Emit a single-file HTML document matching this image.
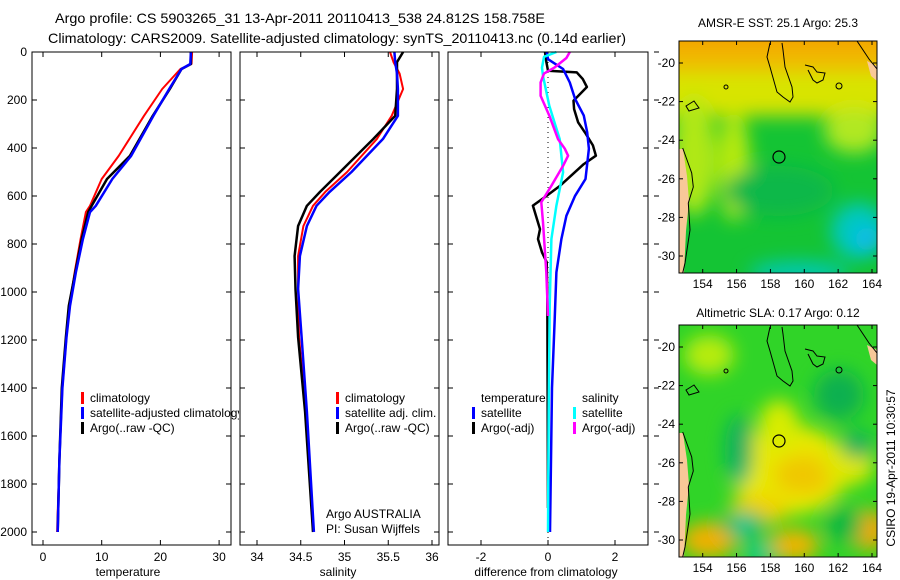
<!DOCTYPE html>
<html><head><meta charset="utf-8"><style>
html,body{margin:0;padding:0;background:#fff}
svg{display:block;font-family:"Liberation Sans",sans-serif}
</style></head><body>
<svg id="fig" width="900" height="580" viewBox="0 0 900 580" xmlns="http://www.w3.org/2000/svg">
<defs>
<filter id="blur" x="-50%" y="-50%" width="200%" height="200%"><feGaussianBlur stdDeviation="9"/></filter>
<clipPath id="m1clip"><rect x="0" y="0" width="198" height="232"/></clipPath>
<clipPath id="leg1clip"><rect x="32" y="380" width="207" height="60"/></clipPath>
</defs>
<text x="55" y="23" font-size="14" textLength="490" lengthAdjust="spacingAndGlyphs">Argo profile: CS 5903265_31 13-Apr-2011 20110413_538 24.812S 158.758E</text>
<text x="48" y="43" font-size="14" textLength="578" lengthAdjust="spacingAndGlyphs">Climatology: CARS2009. Satellite-adjusted climatology: synTS_20110413.nc (0.14d earlier)</text>
<g id="panels"></g>
<!-- Map 1 -->
<g transform="translate(679,41)">
 <g clip-path="url(#m1clip)">
  <rect width="198" height="232" fill="#14c434"/>
  <g filter="url(#blur)">
   <rect x="-20" y="-20" width="240" height="95" fill="#d8e400"/>
   <rect x="-20" y="-20" width="240" height="50" fill="#f0b800"/>
   <rect x="-20" y="-20" width="240" height="25" fill="#f5a000"/>
   <ellipse cx="55" cy="125" rx="16" ry="55" fill="#b8ea10"/>
   <ellipse cx="15" cy="115" rx="22" ry="60" fill="#b0e818"/>
   <ellipse cx="175" cy="90" rx="30" ry="22" fill="#b0e820"/>
   <ellipse cx="100" cy="150" rx="55" ry="25" fill="#10b848"/>
   <ellipse cx="180" cy="190" rx="28" ry="28" fill="#00c8c0"/>
   <ellipse cx="120" cy="232" rx="50" ry="12" fill="#00c8b0"/>
   <ellipse cx="188" cy="198" rx="12" ry="12" fill="#10b8f0"/>
  </g>
  <path d="M0,108 L4,108 L8,135 L10,160 L7,190 L5,232 L0,232Z" fill="#f8c898"/>
  <path d="M188,20 L198,25 L198,40 L192,35Z" fill="#f8c898"/>
  <g fill="none" stroke="#000" stroke-width="1">
   <path d="M91,2 L88,16 L91,26 L98,51 L104,56 L111,61 L114,56 L113,46 L106,26 L104,9 L103,2"/>
   <path d="M126,24 L134,26 L138,31 L146,32 L144,39 L138,42 L134,39 L129,29"/>
   <path d="M3.7,107 L12.7,132 L14.3,146 L9.3,162 L11,189 L6,222 L3.7,232"/>
   <circle cx="160" cy="45" r="3"/><circle cx="47" cy="46" r="2"/><path d="M7,65 L15,60 L20,67 L10,70Z"/>
   <path d="M178,0 L190,18 L198,28"/>
  </g>
  <circle cx="100" cy="116" r="6" fill="none" stroke="#000" stroke-width="1.2"/>
 </g>
 <rect width="198" height="232" fill="none" stroke="#000"/>
</g>
<!-- Map 2 -->
<g transform="translate(679,325)">
 <g clip-path="url(#m1clip)">
  <rect width="198" height="232" fill="#30d428"/>
  <g filter="url(#blur)">
   <ellipse cx="110" cy="145" rx="60" ry="45" fill="#e8e800"/>
   <ellipse cx="125" cy="150" rx="30" ry="20" fill="#f0c800"/>
   <ellipse cx="80" cy="185" rx="30" ry="15" fill="#f0d000"/>
   <ellipse cx="100" cy="100" rx="20" ry="25" fill="#d8ec00"/>
   <ellipse cx="170" cy="140" rx="25" ry="20" fill="#e0e800"/>
   <ellipse cx="30" cy="215" rx="28" ry="18" fill="#f0b000"/>
   <ellipse cx="115" cy="220" rx="25" ry="16" fill="#f0b400"/>
   <ellipse cx="190" cy="205" rx="20" ry="20" fill="#f0a800"/>
   <ellipse cx="30" cy="30" rx="25" ry="20" fill="#b8ec10"/>
   <ellipse cx="60" cy="125" rx="14" ry="35" fill="#10b060"/>
   <ellipse cx="62" cy="150" rx="8" ry="10" fill="#00b878"/>
   <ellipse cx="65" cy="200" rx="22" ry="14" fill="#10b860"/>
   <ellipse cx="65" cy="200" rx="8" ry="8" fill="#00d0b0"/>
   <ellipse cx="80" cy="228" rx="16" ry="10" fill="#00c890"/>
   <ellipse cx="160" cy="70" rx="25" ry="25" fill="#10b050"/>
   <ellipse cx="178" cy="120" rx="15" ry="14" fill="#10b060"/>
   <ellipse cx="165" cy="200" rx="20" ry="18" fill="#10b840"/>
  </g>
  <path d="M0,108 L4,108 L8,135 L10,160 L7,190 L5,232 L0,232Z" fill="#f8c898"/>
  <path d="M188,20 L198,25 L198,40 L192,35Z" fill="#f8c898"/>
  <g fill="none" stroke="#000" stroke-width="1">
   <path d="M91,2 L88,16 L91,26 L98,51 L104,56 L111,61 L114,56 L113,46 L106,26 L104,9 L103,2"/>
   <path d="M126,24 L134,26 L138,31 L146,32 L144,39 L138,42 L134,39 L129,29"/>
   <path d="M3.7,107 L12.7,132 L14.3,146 L9.3,162 L11,189 L6,222 L3.7,232"/>
   <circle cx="160" cy="45" r="3"/><circle cx="47" cy="46" r="2"/><path d="M7,65 L15,60 L20,67 L10,70Z"/>
   <path d="M178,0 L190,18 L198,28"/>
  </g>
  <circle cx="100" cy="116" r="6" fill="none" stroke="#000" stroke-width="1.2"/>
 </g>
 <rect width="198" height="232" fill="none" stroke="#000"/>
</g>
<text x="778" y="27" font-size="12" text-anchor="middle">AMSR-E SST: 25.1 Argo: 25.3</text>
<text x="778" y="317" font-size="12" text-anchor="middle">Altimetric SLA: 0.17 Argo: 0.12</text>
<g id="mapaxes" font-size="12"></g>
<text transform="translate(895,468) rotate(-90)" font-size="12" text-anchor="middle">CSIRO 19-Apr-2011 10:30:57</text>
</svg>
<script>
// ---- data ----
const presBlack = [0,50,71,154,266,433,529,641,667,779,917,1058,1188,1400,1700,2000];
const tempArgo  = [25.2,25.2,23.6,21.6,18.7,14.8,10.9,8.3,7.7,6.6,5.5,4.4,3.9,3.2,2.8,2.5];
const tempClim  = [25.4,25.3,23.4,20.3,17.2,12.9,10.0,8.0,7.3,6.4,5.4,4.5,4.0,3.3,2.8,2.4];
const tempSat   = [25.2,25.1,23.6,21.5,18.8,15.0,11.8,9.0,8.0,6.8,5.6,4.6,4.0,3.3,2.8,2.5];
const presSal   = [0,42,90,154,266,362,500,583,641,725,850,987,1188,1500,2000];
const salArgo   = [35.67,35.60,35.60,35.60,35.58,35.33,34.95,34.72,34.57,34.47,34.43,34.44,34.47,34.55,34.64];
const salClim   = [35.52,35.56,35.63,35.67,35.54,35.37,35.03,34.78,34.64,34.53,34.47,34.47,34.48,34.56,34.64];
const salSat    = [35.57,35.58,35.60,35.61,35.61,35.44,35.08,34.83,34.68,34.57,34.49,34.47,34.51,34.57,34.65];
const presDT    = [0,40,78,85,113,146,203,238,293,335,389,432,467,557,599,640,738,779,835,876,1000,1900];
const dTempArgo = [-0.09,-0.05,0.0,0.86,1.04,1.16,0.76,0.78,0.9,1.1,1.34,1.43,1.07,0.36,-0.04,-0.45,-0.24,-0.3,-0.18,-0.04,-0.02,0.0];
const presDS    = [0,30,71,127,196,265,335,403,529,599,682,779,918,1113,1400,2000];
const dTempSat  = [-0.04,0.0,0.45,0.65,0.81,1.07,1.17,1.22,1.12,0.81,0.55,0.40,0.25,0.2,0.12,0.06];
const presSS    = [0,20,65,100,224,363,501,640,779,1057,1500,2000];
const dSalSat   = [0.25,-0.12,-0.18,-0.15,0.04,0.35,0.45,0.25,0.10,0.05,0.02,0.0];
const presSA    = [0,25,65,90,127,182,265,363,403,432,474,557,626,710,918,1100];
const dSalArgo  = [0.65,0.55,0.19,-0.12,-0.22,-0.22,0.04,0.3,0.5,0.6,0.45,0.1,-0.2,-0.15,-0.05,0.0];
const yTicks = [0,200,400,600,800,1000,1200,1400,1600,1800,2000];
const tTicks = [0,10,20,30];
const sTicks = [34,34.5,35,35.5,36];
const dTicks = [-2,0,2];
const lonTicks = [154,156,158,160,162,164];
const latTicks = [-20,-22,-24,-26,-28,-30];

const NS='http://www.w3.org/2000/svg';
const G=document.getElementById('panels');
function mk(tag,attrs,parent){const e=document.createElementNS(NS,tag);for(const k in attrs)e.setAttribute(k,attrs[k]);(parent||G).appendChild(e);return e;}
const yP = p => 52 + p*0.24;
const xT = v => 43 + v*5.87;
const xS = v => 257 + (v-34)*87.5;
const xD = v => 548 + v*33.5;
const TOP=52, BOT=545;
const panels=[{x0:32,x1:231,f:xT,ticks:tTicks,label:'temperature',lx:128,name:'temperature-panel'},
 {x0:240,x1:439,f:xS,ticks:sTicks,label:'salinity',lx:338,name:'salinity-panel'},
 {x0:448,x1:648,f:xD,ticks:dTicks,label:'difference from climatology',lx:546,name:'difference-panel'}];
panels.forEach((P,i)=>{
  const g=mk('g',{});
  
  
  mk('rect',{x:P.x0,y:TOP,width:P.x1-P.x0,height:BOT-TOP,fill:'#fff',stroke:'none'},g);
  yTicks.forEach(p=>{const y=yP(p);
    mk('line',{x1:P.x0,x2:P.x0+5,y1:y,y2:y,stroke:'#000'},g);
    mk('line',{x1:P.x1-5,x2:P.x1,y1:y,y2:y,stroke:'#000'},g);
    if(i==2) mk('line',{x1:P.x1+6,x2:P.x1+11,y1:y,y2:y,stroke:'#000'},g);
    if(i==0){const t=mk('text',{x:27,y:y+4,'font-size':12,'text-anchor':'end'},g);t.textContent=p;
      
      }
  });
  P.ticks.forEach(v=>{const x=P.f(v);
    mk('line',{x1:x,x2:x,y1:TOP,y2:TOP+5,stroke:'#000'},g);
    mk('line',{x1:x,x2:x,y1:BOT-5,y2:BOT,stroke:'#000'},g);
    const t=mk('text',{x:x,y:BOT+16,'font-size':12,'text-anchor':'middle'},g);t.textContent=v;
    
    
  });
  const xl=mk('text',{x:P.lx,y:576,'font-size':12,'text-anchor':'middle'},g);xl.textContent=P.label;
  
  
});
function line(ps,vs,f,color,w,name){
  const pts=ps.map((p,i)=>f(vs[i]).toFixed(1)+','+yP(p).toFixed(1)).join(' ');
  const e=mk('polyline',{points:pts,fill:'none',stroke:color,'stroke-width':w,'stroke-linejoin':'round'});
  
  
}
line(presBlack,tempClim,xT,'#f00',2,'temp-climatology-line');
line(presBlack,tempArgo,xT,'#000',2.5,'temp-argo-line');
line(presBlack,tempSat,xT,'#00f',2.5,'temp-satellite-line');
line(presSal,salClim,xS,'#f00',2,'sal-climatology-line');
line(presSal,salArgo,xS,'#000',2.5,'sal-argo-line');
line(presSal,salSat,xS,'#00f',2.5,'sal-satellite-line');
mk('line',{x1:xD(0),x2:xD(0),y1:TOP,y2:BOT,stroke:'#000','stroke-dasharray':'1,4'});
line(presDT,dTempArgo,xD,'#000',2.5,'diff-temp-argo-line');
line(presDS,dTempSat,xD,'#00f',2.5,'diff-temp-satellite-line');
line(presSS,dSalSat,xD,'#0ff',2.5,'diff-sal-satellite-line');
line(presSA,dSalArgo,xD,'#f0f',2.5,'diff-sal-argo-line');
panels.forEach(P=>mk('rect',{x:P.x0,y:TOP,width:P.x1-P.x0,height:BOT-TOP,fill:'none',stroke:'#000'}));
function leg(x,y,color,text,clip){
  const g=mk('g',clip?{'clip-path':'url(#leg1clip)'}:{});
  
  
  if(color) mk('rect',{x:x-9,y:y-10,width:3,height:12,fill:color},g);
  const t=mk('text',{x:x,y:y,'font-size':12},g);t.textContent=text;
}
leg(90,402,'#f00','climatology',1);leg(90,417,'#00f','satellite-adjusted climatology',1);leg(90,432,'#000','Argo(..raw -QC)',1);
leg(345,402,'#f00','climatology');leg(345,417,'#00f','satellite adj. clim.');leg(345,432,'#000','Argo(..raw -QC)');
leg(481,402,null,'temperature');leg(481,417,'#00f','satellite');leg(481,432,'#000','Argo(-adj)');
leg(582,402,null,'salinity');leg(582,417,'#0ff','satellite');leg(582,432,'#f0f','Argo(-adj)');
const a1=mk('text',{x:326,y:518,'font-size':12});a1.textContent='Argo AUSTRALIA';


const a2=mk('text',{x:326,y:533,'font-size':12});a2.textContent='PI: Susan Wijffels';


const MA=document.getElementById('mapaxes');
const lonX = l => 702.7 + (l-154)*16.93;
[[41,63,273],[325,347,557]].forEach(([top,y20,bot])=>{
  const latY = la => y20 + (-20-la)*19.3;
  latTicks.forEach(la=>{const y=latY(la);
    mk('line',{x1:679,x2:683,y1:y,y2:y,stroke:'#000'},MA);
    mk('line',{x1:873,x2:877,y1:y,y2:y,stroke:'#000'},MA);
    const t=mk('text',{x:675,y:y+4,'text-anchor':'end'},MA);t.textContent=la;
    
    });
  lonTicks.forEach(lo=>{const x=lonX(lo);
    mk('line',{x1:x,x2:x,y1:top,y2:top+4,stroke:'#000'},MA);
    mk('line',{x1:x,x2:x,y1:bot-4,y2:bot,stroke:'#000'},MA);
    const t=mk('text',{x:x,y:bot+15,'text-anchor':'middle'},MA);t.textContent=lo;
    
    });
});
</script>
</body></html>
